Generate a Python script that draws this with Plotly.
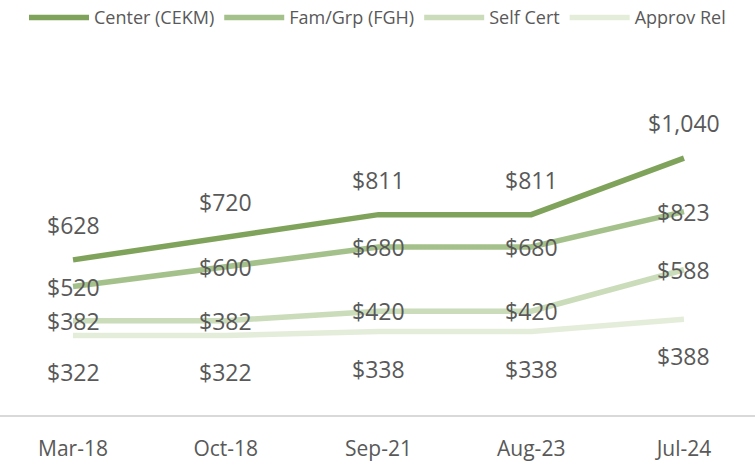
import plotly.graph_objects as go

categories = ["Mar-18", "Oct-18", "Sep-21", "Aug-23", "Jul-24"]
series_names = ["Center (CEKM)", "Fam/Grp (FGH)", "Self Cert", "Approv Rel"]
center = [628, 720, 811, 811, 1040]
famgrp = [520, 600, 680, 680, 823]
selfcert = [382, 382, 420, 420, 588]
approv = [322, 322, 338, 338, 388]

series_values = [center, famgrp, selfcert, approv]
colors = ["#7fa35b", "#a5c18b", "#cadcba", "#e4edda"]
label_shift = [35, 0, 0, -37]

FONT = "Open Sans, Liberation Sans, sans-serif"
GRAY = "#595959"

fig = go.Figure()
annotations = []
for name, vals, col, sh in zip(series_names, series_values, colors, label_shift):
    fig.add_trace(go.Scatter(
        x=categories, y=vals, mode="lines", name=name,
        line=dict(color=col, width=5.5),
        hoverinfo="skip",
    ))
    for c, v in zip(categories, vals):
        annotations.append(dict(
            x=c, y=v, text=f"${v:,}", showarrow=False, yshift=sh,
            font=dict(family=FONT, size=23, color=GRAY),
            xanchor="center", yanchor="middle",
        ))

fig.update_layout(
    width=755, height=466,
    margin=dict(l=0, r=0, t=40, b=51, autoexpand=False),
    paper_bgcolor="white", plot_bgcolor="white",
    showlegend=True,
    legend=dict(orientation="h", x=0.5, xanchor="center",
                yref="container", y=0.962, yanchor="middle",
                font=dict(family=FONT, size=18, color=GRAY),
                itemwidth=60, traceorder="normal"),
    annotations=annotations,
    xaxis=dict(range=[-0.478, 4.465], showgrid=False, zeroline=False,
               showline=True, linecolor="#d9d9d9", linewidth=2,
               ticks="", ticklabelstandoff=14,
               tickfont=dict(family=FONT, size=21, color=GRAY)),
    yaxis=dict(range=[0, 1518], showgrid=False, zeroline=False,
               showticklabels=False, showline=False),
)
fig.write_html("out.html", config={"displayModeBar": False},
               post_script="document.body.style.margin='0';document.body.style.overflow='hidden';")
